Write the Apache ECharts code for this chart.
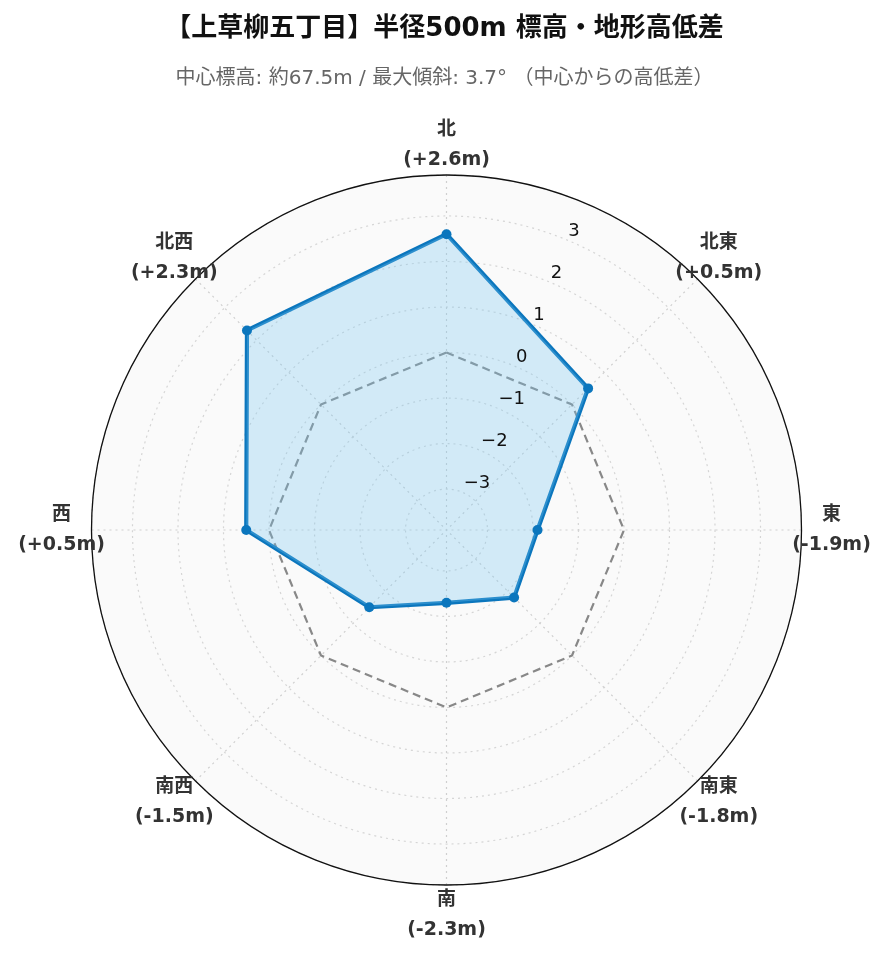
<!DOCTYPE html>
<html><head><meta charset="utf-8">
<script src="https://cdn.jsdelivr.net/npm/echarts@6/dist/echarts.min.js"></script>
<style>html,body{margin:0;padding:0;background:#fff}#c{width:889px;height:962px}</style>
</head><body><div id="c"></div>
<script>
const directions = ['北', '北東', '東', '南東', '南', '南西', '西', '北西'];
const elevationDiff = [2.6, 0.5, -1.9, -1.8, -2.3, -1.5, 0.5, 2.3];
const referenceLevel = [0, 0, 0, 0, 0, 0, 0, 0];
const radialTicks = [-3, -2, -1, 0, 1, 2, 3];
const radialRange = [-3.9, 3.9];
const titleText = '【上草柳五丁目】半径500m 標高・地形高低差';
const subtitleText = '中心標高: 約67.5m / 最大傾斜: 3.7° （中心からの高低差）';

const FONT = "'DejaVu Sans', 'Noto Sans CJK JP', sans-serif";
const CENTER = [446.5, 530];
const R = 355;

// radar goes counter-clockwise; reorder so that directions run clockwise from north
const radarOrder = [0, 7, 6, 5, 4, 3, 2, 1];
const radarIndicators = radarOrder.map(i => ({ name: directions[i], min: radialRange[0], max: radialRange[1] }));
const radarValues = radarOrder.map(i => elevationDiff[i]);
const radarRef = radarOrder.map(i => referenceLevel[i]);

function fmtDiff(v) { return (v > 0 ? '+' : '') + v.toFixed(1) + 'm'; }
function isTick(v) { return radialTicks.some(t => Math.abs(t - v) < 1e-6); }

const chart = echarts.init(document.getElementById('c'), null, { renderer: 'canvas' });
chart.setOption({
  backgroundColor: '#ffffff',
  animation: false,
  textStyle: { fontFamily: FONT },
  title: [
    { text: titleText, left: 'center', top: 11,
      textStyle: { fontSize: 26, fontWeight: 'bold', color: '#111', fontFamily: FONT } },
    { text: subtitleText, left: 'center', top: 64,
      textStyle: { fontSize: 20, fontWeight: 'normal', color: '#666', fontFamily: FONT } }
  ],
  polar: [
    { center: CENTER, radius: R },
    { center: CENTER, radius: 385 },
    { center: CENTER, radius: R }
  ],
  angleAxis: [
    { polarIndex: 0, type: 'value', min: 0, max: 360, interval: 45, startAngle: 90, clockwise: true, z: 2,
      axisLine: { show: true, lineStyle: { color: '#111', width: 1.3 } },
      axisTick: { show: false }, axisLabel: { show: false },
      splitLine: { show: true, lineStyle: { color: '#cfcfcf', type: [2, 4], width: 1.2 } },
      splitArea: { show: false } },
    { polarIndex: 1, type: 'category', data: directions, startAngle: 90, clockwise: true,
      boundaryGap: false, show: false },
    { polarIndex: 2, type: 'value', min: 0, max: 360, interval: 90, startAngle: 67.5, z: 0,
      axisLine: { show: false }, axisTick: { show: false }, axisLabel: { show: false },
      splitLine: { show: false },
      splitArea: { show: true, areaStyle: { color: ['#fafafa'] } } }
  ],
  radiusAxis: [
    { polarIndex: 0, type: 'value', min: radialRange[0], max: radialRange[1], minInterval: 1, maxInterval: 1, z: 1,
      axisLine: { show: false }, axisTick: { show: false }, axisLabel: { show: false },
      splitLine: { show: true, lineStyle: { color: '#d5d5d5', type: [2, 4], width: 1.2 } },
      splitArea: { show: false } },
    { polarIndex: 1, type: 'value', min: 0, max: 1, show: false },
    { polarIndex: 2, type: 'value', min: radialRange[0], max: radialRange[1], minInterval: 1, maxInterval: 1, z: 6,
      axisLine: { show: false }, axisTick: { show: false }, splitLine: { show: false },
      axisLabel: { show: true, margin: -1.6, align: 'left', verticalAlign: 'bottom',
        fontSize: 18, color: '#111', fontFamily: FONT,
        formatter: v => isTick(v) ? (v < 0 ? '\u2212' + Math.abs(Math.round(v)) : String(Math.round(v))) : '' } }
  ],
  radar: {
    center: CENTER, radius: R, startAngle: 90, shape: 'circle',
    indicator: radarIndicators,
    axisName: { show: false },
    axisLine: { show: false }, splitLine: { show: false }, splitArea: { show: false },
    axisTick: { show: false }, axisLabel: { show: false }
  },
  series: [
    { type: 'radar', z: 3, silent: true,
      data: [{ value: radarRef, symbol: 'none',
        lineStyle: { color: '#888', width: 2.2, type: [8, 5] } }] },
    { type: 'radar', z: 4,
      data: [{ value: radarValues, symbol: 'circle', symbolSize: 10,
        itemStyle: { color: '#0b76bd' },
        lineStyle: { color: '#0b76bd', width: 4.2 },
        areaStyle: { color: 'rgba(120,200,243,0.3)', opacity: 1 } }] },
    { type: 'scatter', coordinateSystem: 'polar', polarIndex: 1, symbolSize: 1, z: 5,
      itemStyle: { color: 'rgba(0,0,0,0)', opacity: 1 },
      data: directions.map((d, i) => [1, i]),
      label: { show: true, position: 'inside', color: '#333', opacity: 1, fontSize: 19, fontWeight: 'bold',
        textBorderWidth: 0, textBorderColor: 'transparent', lineHeight: 30, fontFamily: FONT,
        align: 'center', verticalAlign: 'middle',
        formatter: p => directions[p.dataIndex] + '\n(' + fmtDiff(elevationDiff[p.dataIndex]) + ')' } }
  ]
});
</script></body></html>
